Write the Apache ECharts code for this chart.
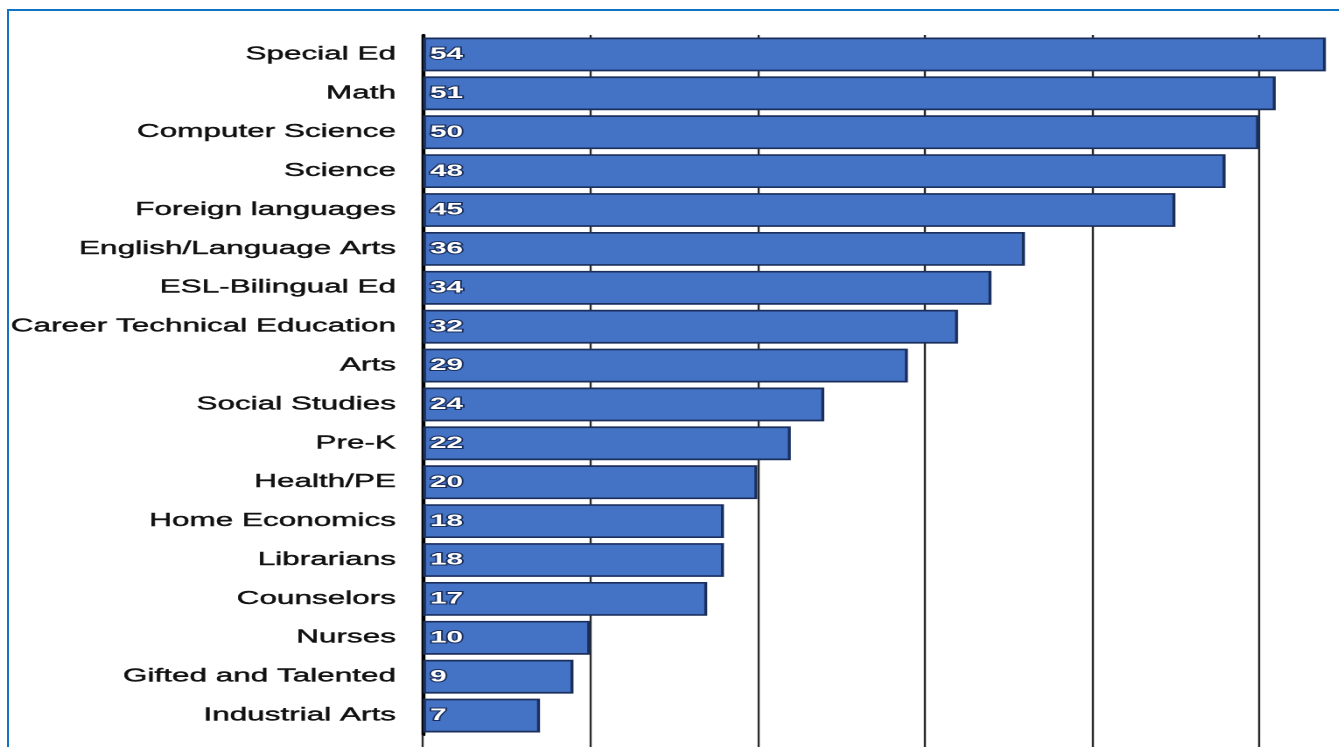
<!DOCTYPE html>
<html>
<head>
<meta charset="utf-8">
<script src="https://cdn.jsdelivr.net/npm/echarts@6/dist/echarts.min.js"></script>
<style>
  html, body { margin: 0; padding: 0; width: 1339px; height: 747px; overflow: hidden; background: #fff; }
  #frame { position: absolute; left: 7px; top: 9px; width: 2000px; height: 2000px;
           border-left: 2px solid #1173c6; border-top: 2px solid #1173c6; overflow: hidden; }
  #chart { position: absolute; left: -9px; top: -11px; width: 780px; height: 747px;
           transform: scaleX(1.75); transform-origin: 0 0; }
</style>
</head>
<body>
<div id="frame"><div id="chart"></div></div>
<script>
const categories = ['Special Ed','Math','Computer Science','Science','Foreign languages',
  'English/Language Arts','ESL-Bilingual Ed','Career Technical Education','Arts','Social Studies',
  'Pre-K','Health/PE','Home Economics','Librarians','Counselors','Nurses','Gifted and Talented','Industrial Arts'];
const values = [54,51,50,48,45,36,34,32,29,24,22,20,18,18,17,10,9,7];

const chart = echarts.init(document.getElementById('chart'), null, {renderer: 'canvas', devicePixelRatio: 2});
chart.setOption({
  animation: false,
  backgroundColor: '#fff',
  grid: { left: 241.7, right: 12.8, top: 35, bottom: 12, containLabel: false },
  xAxis: {
    type: 'value', min: 0, max: 55, interval: 10,
    axisLabel: { show: false },
    axisLine: { show: false },
    axisTick: { show: true, inside: false, length: 14, lineStyle: { color: '#2b2b2b', width: 1.2 } },
    splitLine: { show: true, lineStyle: { color: '#2b2b2b', width: 1.2 } }
  },
  yAxis: {
    type: 'category', inverse: true, data: categories,
    axisLine: { show: true, lineStyle: { color: '#000', width: 2.2 } },
    axisTick: { show: false },
    axisLabel: { margin: 15.4, fontSize: 18, color: '#111', fontFamily: 'Liberation Sans',
                 textBorderColor: '#111', textBorderWidth: 0.4 }
  },
  series: [{
    type: 'bar', data: values, barCategoryGap: '13%',
    itemStyle: { color: '#4472C4', borderColor: '#1a2f5c', borderWidth: 1.7 },
    label: { show: true, position: 'insideLeft', distance: 4, color: '#fff', fontWeight: 'bold',
             fontSize: 17, fontFamily: 'Liberation Sans', textBorderColor: '#1a2f5c', textBorderWidth: 2 }
  }]
});
</script>
</body>
</html>
